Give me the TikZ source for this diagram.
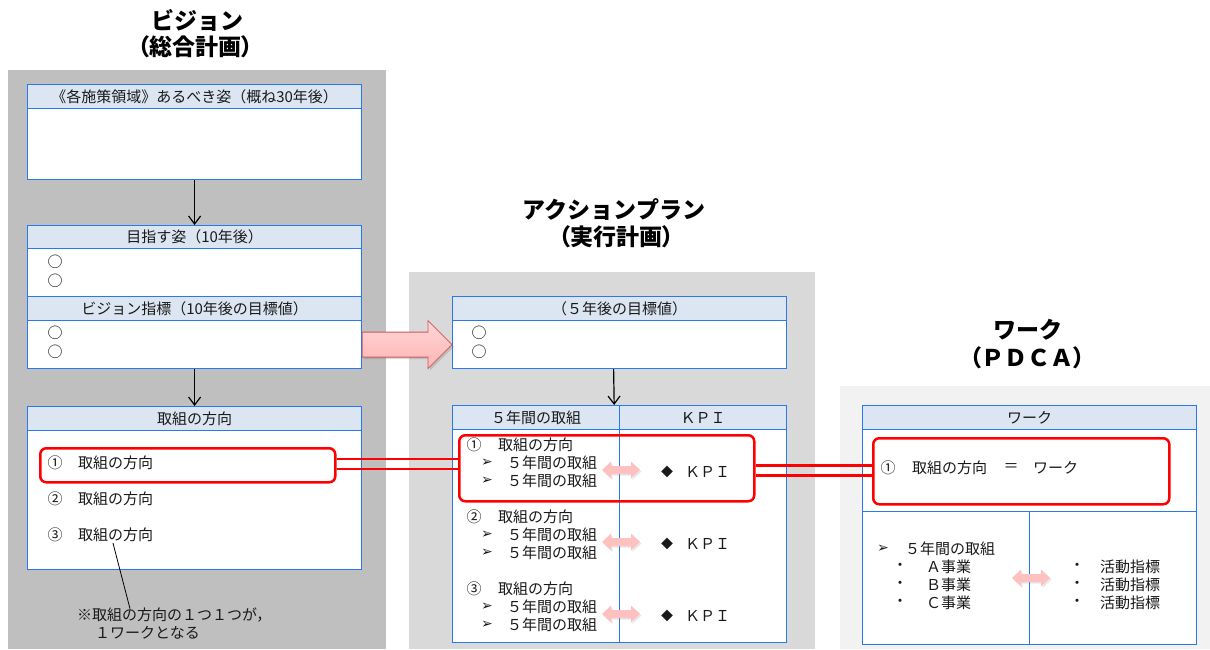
\documentclass[tikz,border=0pt]{standalone}
\usepackage{fontspec}
\setmainfont{Noto Sans CJK JP}
\newfontfamily\dvfont{DejaVu Sans}
\usetikzlibrary{arrows.meta,calc,shadows}
\definecolor{hdrfill}{RGB}{220,230,242}
\definecolor{bblue}{RGB}{40,120,240}
\definecolor{grayA}{RGB}{191,191,191}
\definecolor{grayB}{RGB}{217,217,217}
\definecolor{grayC}{RGB}{242,242,242}
\definecolor{pinkF}{RGB}{255,192,192}
\definecolor{pinkT}{RGB}{255,214,214}
\definecolor{pinkB}{RGB}{255,180,180}
\definecolor{pinkD}{RGB}{200,90,90}
\definecolor{txt}{RGB}{25,25,25}
\newcommand\bodyfs{\fontsize{15}{18}\selectfont}
\newcommand\lpar{{\addfontfeature{RawFeature=+palt}（}}
\newcommand\rpar{{\addfontfeature{RawFeature=+palt}）}}
\tikzset{
  hdr/.style={draw=bblue, line width=1.2pt, fill=hdrfill, anchor=north west, inner sep=0pt, font=\bodyfs, text=txt},
  bod/.style={draw=bblue, line width=1.2pt, fill=white, anchor=north west, inner sep=0pt},
  redbox/.style={draw=red, line width=2.5pt, rounded corners=6pt, anchor=north west, inner sep=0pt},
  redline/.style={draw=red, line width=2.5pt},
  tx/.style={anchor=west, inner sep=0pt, font=\bodyfs, text=txt},
  tc/.style={anchor=center, inner sep=0pt, font=\bodyfs, text=txt},
  mk/.style={anchor=center, inner sep=0pt, font=\dvfont\fontsize{14}{16}\selectfont, text=txt},
  ttl/.style={anchor=center, inner sep=0pt, font=\fontsize{23}{27}\selectfont\bfseries, text=black},
  arr/.style={draw=black, line width=1.2pt, -{Straight Barb[length=8pt,width=12pt]}},
  bigarrow/.style={draw=pinkD, line width=0.8pt, top color=pinkT, bottom color=pinkB,
     drop shadow={shadow xshift=2pt, shadow yshift=-2pt, opacity=0.3}},
  pinkdbl/.pic={\fill[pinkF, drop shadow={shadow xshift=1.5pt, shadow yshift=-1.5pt, opacity=0.18}]
     (-19,0) -- (-10,-8.5) -- (-10,-4) -- (10,-4) -- (10,-8.5) -- (19,0) -- (10,8.5) -- (10,4)
     -- (-10,4) -- (-10,8.5) -- cycle;}
}
\begin{document}
\begin{tikzpicture}[x=1pt,y=-1pt]
\useasboundingbox (0,0) rectangle (1210,649);
% panels
\fill[grayA] (8,70) rectangle (386,649);
\fill[grayB] (409,272) rectangle (815,649);
\fill[grayC] (840,386) rectangle (1210,649);
% titles
\node[ttl] (vt1) at (197,20) {ビジョン};
\node[ttl] (vt2) at (195,47) {\lpar 総合計画\rpar};
\node[ttl] (at1) at (614,210) {アクションプラン};
\node[ttl] (at2) at (616,237) {\lpar 実行計画\rpar};
\node[ttl] (wt1) at (1028,330) {ワーク};
\node[ttl] (wt2) at (1027,358) {\lpar ＰＤＣＡ\rpar};
% left column
\node[hdr, minimum width=334pt, minimum height=24pt] (v1h) at (27,84) {《各施策領域》あるべき姿（概ね30年後）};
\node[bod, minimum width=334pt, minimum height=71pt] (v1b) at (27,108) {};
\node[hdr, minimum width=334pt, minimum height=23pt] (v2h) at (27,225) {目指す姿（10年後）};
\node[bod, minimum width=334pt, minimum height=48pt] (v2b) at (27,248) {};
\node[hdr, minimum width=334pt, minimum height=24pt] (v3h) at (27,296) {ビジョン指標（10年後の目標値）};
\node[bod, minimum width=334pt, minimum height=48pt] (v3b) at (27,320) {};
\node[hdr, minimum width=334pt, minimum height=24pt] (v4h) at (27,406) {取組の方向};
\node[bod, minimum width=334pt, minimum height=139pt] (v4b) at (27,430) {};
\node[tc] (vc1) at (55,262) {○};
\node[tc] (vc2) at (55,281) {○};
\node[tc] (vc3) at (55,333) {○};
\node[tc] (vc4) at (55,352) {○};
\draw[arr] (v1b.south) -- (v2h.north);
\draw[arr] (v3b.south) -- (v4h.north);
% middle column
\node[hdr, minimum width=334pt, minimum height=24pt] (a1h) at (452,296) {（５年後の目標値）};
\node[bod, minimum width=334pt, minimum height=48pt] (a1b) at (452,320) {};
\node[tc] (ac1) at (479,333) {○};
\node[tc] (ac2) at (479,352) {○};
\node[hdr, minimum width=167pt, minimum height=24pt] (a2hl) at (452,405) {５年間の取組};
\node[hdr, minimum width=167pt, minimum height=24pt] (a2hr) at (619,405) {ＫＰＩ};
\node[bod, minimum width=167pt, minimum height=213pt] (a2bl) at (452,429) {};
\node[bod, minimum width=167pt, minimum height=213pt] (a2br) at (619,429) {};
\draw[arr] ($(a1b.south)+(-6,0)$) -- ($(a2hl.north east)+(-6,0)$);
% right column
\node[hdr, minimum width=334pt, minimum height=24pt] (w1h) at (862,405) {ワーク};
\node[bod, minimum width=334pt, minimum height=82pt] (w1b) at (862,429) {};
\node[bod, minimum width=167pt, minimum height=133pt] (w2l) at (862,511) {};
\node[bod, minimum width=167pt, minimum height=133pt] (w2r) at (1029,511) {};
% big pink arrow
\coordinate (pa) at (v3b.east);
\coordinate (pb) at (a1b.west);
\draw[bigarrow] ($(pa)+(0,-12.5)$) -- ($(pb)+(-24,-12.5)$) -- ($(pb)+(-24,-24)$) -- (pb)
   -- ($(pb)+(-24,24)$) -- ($(pb)+(-24,12.5)$) -- ($(pa)+(0,12.5)$) -- cycle;
% red boxes
\node[redbox, minimum width=295pt, minimum height=34pt] (r1) at (39,447) {};
\node[redbox, minimum width=295pt, minimum height=66pt] (r2) at (458,434) {};
\node[redbox, minimum width=296pt, minimum height=66pt] (r3) at (872,437) {};
\coordinate (d1) at ($(r1.east)+(0,-6.5)$);
\coordinate (d2) at ($(r1.east)+(0,3.5)$);
\coordinate (e1) at ($(r2.east)+(0,-3)$);
\coordinate (e2) at ($(r2.east)+(0,7)$);
\draw[redline] (d1) -- (d1 -| r2.west);
\draw[redline] (d2) -- (d2 -| r2.west);
\draw[redline] (e1) -- (e1 -| r3.west);
\draw[redline] (e2) -- (e2 -| r3.west);
% left items
\node[tc] (vn1) at (55,463) {①};
\node[tx] (vi1) at (78,463) {取組の方向};
\node[tc] (vn2) at (55,499) {②};
\node[tx] (vi2) at (78,499) {取組の方向};
\node[tc] (vn3) at (55,535) {③};
\node[tx] (vi3) at (78,535) {取組の方向};
\node[tx] (note1) at (77,615) {※取組の方向の１つ１つが，};
\node[tx] (note2) at (95,633) {１ワークとなる};
\draw[line width=0.8pt] ($(vi3.south west)+(35,1)$) -- ($(note1.north west)+(53,1)$);
% middle items
\foreach \n [count=\i] in {①,②,③} {
  \pgfmathsetmacro\yy{445+72*(\i-1)}
  \node[tc] (mn\i) at (474,\yy) {\n};
  \node[tx] (mt\i) at (498,\yy) {取組の方向};
  \node[mk] (mka\i) at (487,\yy+18) {➢};
  \node[tx] (mya\i) at (507,\yy+18) {５年間の取組};
  \node[mk] (mkb\i) at (487,\yy+36) {➢};
  \node[tx] (myb\i) at (507,\yy+36) {５年間の取組};
  \pic at (621,\yy+25) {pinkdbl};
  \node[tc, font=\fontsize{12}{14}\selectfont] (md\i) at (667,\yy+27) {◆};
  \node[tx] (mk\i) at (685,\yy+27) {ＫＰＩ};
}
% right items
\node[tc] (wn1) at (888,468) {①};
\node[tx] (wi1) at (912,468) {取組の方向};
\node[tc] (weq) at (1011,468) {＝};
\node[tx] (ww1) at (1033,468) {ワーク};
\node[mk] (wk1) at (883,549) {➢};
\node[tx] (wy1) at (905,549) {５年間の取組};
\foreach \lab [count=\i] in {Ａ,Ｂ,Ｃ} {
  \pgfmathsetmacro\yy{549+18*\i}
  \node[tc] (wdl\i) at (900,\yy) {・};
  \node[tx] (wj\i) at (926,\yy) {\lab 事業};
  \node[tc] (wdr\i) at (1077,\yy) {・};
  \node[tx] (wa\i) at (1100,\yy) {活動指標};
}
\pic at (1031,578) {pinkdbl};
\end{tikzpicture}
\end{document}
